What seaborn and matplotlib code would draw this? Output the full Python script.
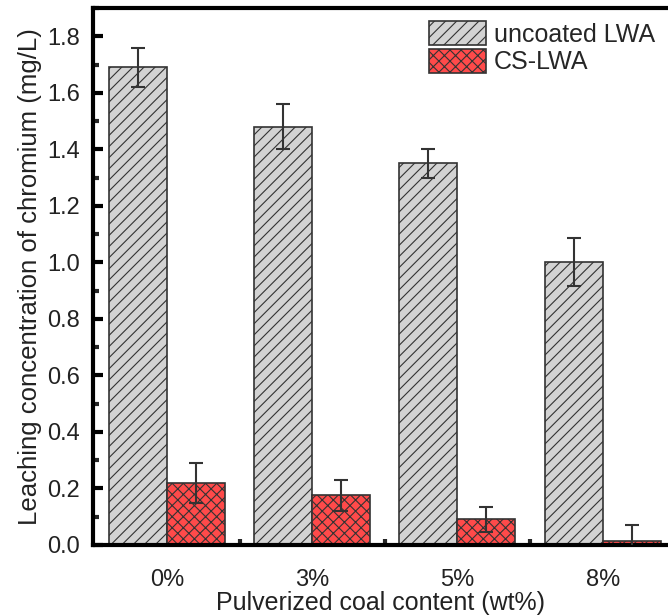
import numpy as np
import pandas as pd
import matplotlib
matplotlib.use("Agg")
import matplotlib.pyplot as plt
import seaborn as sns
from matplotlib.ticker import MultipleLocator

categories = ["0%", "3%", "5%", "8%"]
series = ["uncoated LWA", "CS-LWA"]
uncoated = [1.69, 1.48, 1.35, 1.00]
uncoated_err = [0.07, 0.08, 0.05, 0.085]
cs = [0.22, 0.175, 0.09, 0.015]
cs_err = [0.07, 0.055, 0.045, 0.055]

sns.set_theme(style="white")
plt.rcParams['font.family'] = ['Liberation Sans', 'DejaVu Sans']
plt.rcParams['hatch.linewidth'] = 0.8

df = pd.DataFrame({
    "cat": categories * 2,
    "series": [series[0]] * 4 + [series[1]] * 4,
    "val": uncoated + cs,
})

fig = plt.figure(figsize=(6.68, 6.15), dpi=100)
ax = fig.add_axes([0.139, 0.114, 0.861, 0.873])
sns.barplot(data=df, x="cat", y="val", hue="series", order=categories,
            hue_order=series, palette=["#d3d3d3", "#ff4a4a"], width=0.8,
            errorbar=None, ax=ax, saturation=1, edgecolor="#333333", linewidth=1.2)

hatches = ["///", "xxx"]
errs = [uncoated_err, cs_err]
bar_conts = list(ax.containers)
for i, cont in enumerate(bar_conts):
    xs, ys = [], []
    for p in cont.patches:
        p.set_hatch(hatches[i])
        p.set_edgecolor("#333333")
        xs.append(p.get_x() + p.get_width() / 2)
        ys.append(p.get_height())
    ax.errorbar(xs, ys, yerr=errs[i], fmt="none", ecolor="#333333",
                elinewidth=1.5, capsize=5, capthick=1.5, zorder=5)

ax.set_ylim(0, 1.9)
ax.set_xlim(-0.51, 3.45)
ax.yaxis.set_major_locator(MultipleLocator(0.2))
ax.yaxis.set_minor_locator(MultipleLocator(0.1))
ax.set_xticks([0, 1, 2, 3])
ax.set_xticks([0.5, 1.5, 2.5], minor=True)
ax.set_xticklabels(categories)
ax.yaxis.set_major_formatter(matplotlib.ticker.FormatStrFormatter("%.1f"))
ax.tick_params(axis="both", which="major", direction="in", length=7, width=3,
               labelsize=17, colors="black", labelcolor="#222222", left=True, bottom=False)
ax.tick_params(axis="both", which="minor", direction="in", length=4, width=3,
               left=True, bottom=True)
ax.tick_params(axis="y", which="major", pad=9)
ax.tick_params(axis="x", which="major", pad=17)
for s in ["left", "bottom", "top"]:
    ax.spines[s].set_linewidth(3)
    ax.spines[s].set_color("black")
ax.spines["right"].set_visible(False)

ax.set_xlabel("Pulverized coal content (wt%)", fontsize=18, color="#222222", labelpad=0)
ax.set_ylabel("Leaching concentration of chromium (mg/L)", fontsize=18.5, color="#222222", labelpad=4)

leg = ax.legend(loc="upper right", bbox_to_anchor=(1.008, 1.008), frameon=False, fontsize=18,
                handlelength=2.3, handleheight=1.1, handletextpad=0.3, labelspacing=0.08,
                borderaxespad=0.3)
for h, hh in zip(leg.legend_handles, hatches):
    h.set_hatch(hh)
    h.set_edgecolor("#333333")

fig.savefig("out.png", dpi=100)
